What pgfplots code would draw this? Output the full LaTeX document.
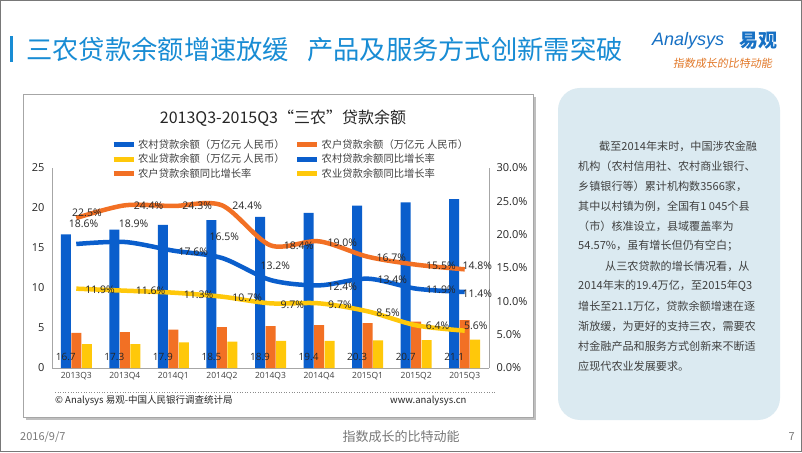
\documentclass[border=0pt]{standalone}
\usepackage{pgfplots}
\pgfplotsset{compat=1.18}
\usepackage{fontspec}
\setmainfont{Noto Sans CJK SC}
\newfontfamily\numfont{Open Sans}
\newfontfamily\logofont{Liberation Sans}
\newfontfamily\slantcjk[FakeSlant=0.15]{Noto Sans CJK SC}
\definecolor{titleblue}{RGB}{24,140,212}
\definecolor{barblue}{RGB}{10,94,204}
\definecolor{barorange}{RGB}{242,112,36}
\definecolor{baryellow}{RGB}{255,200,10}
\definecolor{panelblue}{RGB}{219,234,241}
\definecolor{axisgray}{RGB}{166,166,166}
\definecolor{txt}{RGB}{38,38,38}
\definecolor{txtgray}{RGB}{64,64,64}
\definecolor{footgray}{RGB}{120,120,120}
\definecolor{logoorange}{RGB}{226,120,40}
\definecolor{logoblue}{RGB}{22,112,196}
\begin{document}
\begin{tikzpicture}[x=1pt,y=1pt]
\path[use as bounding box, fill=white] (0,0) rectangle (802,452);
\draw[footgray, line width=1pt] (0.5,0.5) rectangle (801.5,451.5);
% slide title
\fill[titleblue] (10,390) rectangle (13,416);
\node[anchor=west, text=titleblue, font=\fontsize{26.3}{28}\selectfont, inner sep=0pt] at (26,403) {三农贷款余额增速放缓\hspace{18pt}产品及服务方式创新需突破};
% logo
\node[anchor=west, text=logoblue, font=\logofont\itshape\fontsize{18}{19}\selectfont, inner sep=0pt] at (652,411) {Analysys};
\node[anchor=west, text=logoblue, font=\bfseries\fontsize{19}{20}\selectfont, inner sep=0pt] at (739,411) {易观};
\node[anchor=west, text=logoorange, font=\slantcjk\fontsize{11}{12}\selectfont, inner sep=0pt] at (673,389) {指数成长的比特动能};
% chart box
\fill[black!25] (26,32) rectangle (536,355);
\filldraw[fill=white, draw=black!35] (23,35) rectangle (533,358);
\node[text=txt, font=\fontsize{16}{18}\selectfont] at (283,334) {2013Q3-2015Q3“三农”贷款余额};
% left axis: bars
\begin{axis}[
  at={(52pt,84pt)}, anchor=south west,
  scale only axis, width=437pt, height=200pt,
  xmin=-0.5, xmax=8.5, ymin=0, ymax=25,
  axis x line*=bottom, axis y line*=left,
  axis line style={draw=axisgray, line width=0.8pt, -},
  xtick={0,...,8},
  xticklabels={2013Q3,2013Q4,2014Q1,2014Q2,2014Q3,2014Q4,2015Q1,2015Q2,2015Q3},
  ytick={0,5,10,15,20,25},
  major tick length=0pt,
  x tick label style={font=\numfont\fontsize{8.5}{9}\selectfont, text=txtgray, yshift=-1pt},
  y tick label style={font=\numfont\fontsize{11}{12}\selectfont, text=txt, xshift=-4pt},
  /pgf/number format/assume math mode=true,
  clip=false,
]
\addplot[ybar, bar width=10pt, bar shift=-10.5pt, fill=barblue, draw=none] coordinates {(0,16.7) (1,17.3) (2,17.9) (3,18.5) (4,18.9) (5,19.4) (6,20.3) (7,20.7) (8,21.1)};
\addplot[ybar, bar width=10pt, bar shift=0pt, fill=barorange, draw=none] coordinates {(0,4.4) (1,4.5) (2,4.8) (3,5.1) (4,5.25) (5,5.35) (6,5.6) (7,5.8) (8,6.0)};
\addplot[ybar, bar width=10pt, bar shift=10.5pt, fill=baryellow, draw=none] coordinates {(0,3.0) (1,3.0) (2,3.2) (3,3.3) (4,3.4) (5,3.4) (6,3.45) (7,3.5) (8,3.55)};
\addplot[draw=none, mark=none, nodes near coords, point meta=explicit symbolic,
  every node near coord/.style={anchor=center, xshift=-10.5pt, font=\numfont\fontsize{10}{11}\selectfont, text=txt}]
  coordinates {(0,1.4)[16.7] (1,1.4)[17.3] (2,1.4)[17.9] (3,1.4)[18.5] (4,1.4)[18.9] (5,1.4)[19.4] (6,1.4)[20.3] (7,1.4)[20.7] (8,1.4)[21.1]};
\end{axis}
% right axis: growth lines
\begin{axis}[
  at={(52pt,84pt)}, anchor=south west,
  scale only axis, width=437pt, height=200pt,
  xmin=-0.5, xmax=8.5, ymin=0, ymax=30,
  axis y line*=right, axis x line=none,
  axis line style={draw=axisgray, line width=0.8pt, -},
  ytick={0,5,10,15,20,25,30},
  major tick length=0pt,
  yticklabel={\pgfmathprintnumber[fixed,fixed zerofill,precision=1]{\tick}\%},
  y tick label style={font=\numfont\fontsize{11}{12}\selectfont, text=txt, xshift=4pt},
  /pgf/number format/assume math mode=true,
  clip=false,
  legend columns=2,
  legend image code/.code={\draw[#1, line width=5pt] (0pt,0pt) -- (20pt,0pt);},
  legend style={at={(0.135,1.152)}, anchor=north west, draw=none, fill=none, inner sep=0pt,
    font=\fontsize{10.3}{11}\selectfont, text=txtgray, nodes={inner ysep=2pt, inner xsep=2pt},
    /tikz/every even column/.append style={column sep=8pt}},
  legend cell align=left,
]
\addlegendimage{barblue}
\addlegendentry{农村贷款余额（万亿元 人民币）}
\addlegendimage{barorange}
\addlegendentry{农户贷款余额（万亿元 人民币）}
\addlegendimage{baryellow}
\addlegendentry{农业贷款余额（万亿元 人民币）}
\addlegendimage{barblue}
\addlegendentry{农村贷款余额同比增长率}
\addlegendimage{barorange}
\addlegendentry{农户贷款余额同比增长率}
\addlegendimage{baryellow}
\addlegendentry{农业贷款余额同比增长率}
\addplot[forget plot, barorange, line width=4.5pt, smooth, tension=0.5, mark=none] coordinates {(0,22.5) (1,24.4) (2,24.3) (3,24.4) (4,18.4) (5,19.0) (6,16.7) (7,15.5) (8,14.8)};
\addplot[forget plot, barblue, line width=4.5pt, smooth, tension=0.5, mark=none] coordinates {(0,18.6) (1,18.9) (2,17.6) (3,16.5) (4,13.2) (5,12.4) (6,13.4) (7,11.9) (8,11.4)};
\addplot[forget plot, baryellow, line width=4.5pt, smooth, tension=0.5, mark=none] coordinates {(0,11.9) (1,11.6) (2,11.3) (3,10.7) (4,9.7) (5,9.7) (6,8.5) (7,6.4) (8,5.6)};
\addplot[forget plot, draw=none, mark=none, nodes near coords, point meta=explicit symbolic,
  every node near coord/.style={anchor=center, font=\numfont\fontsize{10.5}{11}\selectfont, text=txt}]
  coordinates {(0.22,23.3)[22.5\%] (1.49,24.35)[24.4\%] (2.49,24.35)[24.3\%] (3.52,24.35)[24.4\%] (4.58,18.3)[18.4\%] (5.48,18.85)[19.0\%] (6.49,16.55)[16.7\%] (7.51,15.3)[15.5\%] (8.26,15.4)[14.8\%]};
\addplot[forget plot, draw=none, mark=none, nodes near coords, point meta=explicit symbolic,
  every node near coord/.style={anchor=center, font=\numfont\fontsize{10.5}{11}\selectfont, text=txt}]
  coordinates {(0.15,21.7)[18.6\%] (1.18,21.7)[18.9\%] (2.41,17.45)[17.6\%] (3.05,19.7)[16.5\%] (4.10,15.3)[13.2\%] (5.48,12.2)[12.4\%] (6.51,13.3)[13.4\%] (7.51,11.8)[11.9\%] (8.26,11.2)[11.4\%]};
\addplot[forget plot, draw=none, mark=none, nodes near coords, point meta=explicit symbolic,
  every node near coord/.style={anchor=center, font=\numfont\fontsize{10.5}{11}\selectfont, text=txt}]
  coordinates {(0.49,11.8)[11.9\%] (1.53,11.6)[11.6\%] (2.52,11.05)[11.3\%] (3.52,10.55)[10.7\%] (4.45,9.55)[9.7\%] (5.43,9.45)[9.7\%] (6.42,8.35)[8.5\%] (7.44,6.3)[6.4\%] (8.23,6.3)[5.6\%]};
\end{axis}
% source line
\draw[black!45, dotted, line width=0.6pt] (55,60) -- (495,60);
\node[anchor=west, text=txt, font=\fontsize{9.5}{10}\selectfont, inner sep=0pt] at (55,51) {© Analysys 易观-中国人民银行调查统计局};
\node[anchor=west, text=txt, font=\fontsize{9.5}{10}\selectfont, inner sep=0pt] at (390,51) {www.analysys.cn};
% side panel
\fill[panelblue, rounded corners=22pt] (558,32) rectangle (780,364);
\begin{scope}[every node/.style={anchor=west, text=txtgray, font=\fontsize{11.1}{12}\selectfont, inner sep=0pt}]
\node at (599,306) {截至2014年末时，中国涉农金融};
\node at (578,286) {机构（农村信用社、农村商业银行、};
\node at (578,266) {乡镇银行等）累计机构数3566家，};
\node at (578,246) {其中以村镇为例，全国有1 045个县};
\node at (578,226) {（市）核准设立，县域覆盖率为};
\node at (578,206) {54.57\%，虽有增长但仍有空白；};
\node at (605,186) {从三农贷款的增长情况看，从};
\node at (578,166) {2014年末的19.4万亿，至2015年Q3};
\node at (578,146) {增长至21.1万亿，贷款余额增速在逐};
\node at (578,126) {渐放缓，为更好的支持三农，需要农};
\node at (578,106) {村金融产品和服务方式创新来不断适};
\node at (578,86) {应现代农业发展要求。};
\end{scope}
% footer
\node[anchor=west, text=footgray, font=\fontsize{11}{12}\selectfont, inner sep=0pt] at (20,15) {2016/9/7};
\node[text=footgray, font=\fontsize{13}{14}\selectfont, inner sep=0pt] at (401,15) {指数成长的比特动能};
\node[anchor=east, text=footgray, font=\fontsize{11}{12}\selectfont, inner sep=0pt] at (795,15) {7};
\end{tikzpicture}
\end{document}
